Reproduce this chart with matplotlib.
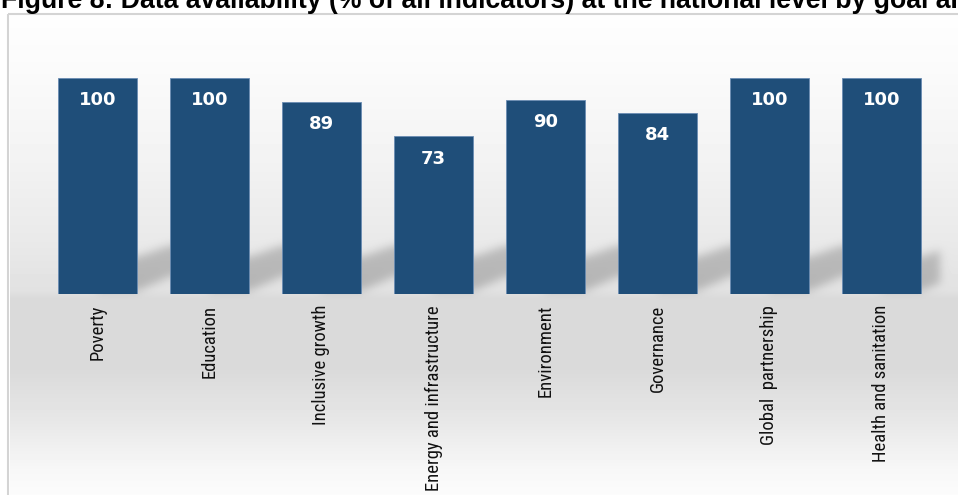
import matplotlib
matplotlib.use('Agg')
import matplotlib.pyplot as plt
from matplotlib.patches import Rectangle
import numpy as np

# Chart data
categories = ['Poverty', 'Education', 'Inclusive growth', 'Energy and infrastructure',
              'Environment', 'Governance', 'Global  partnership', 'Health and sanitation']
values = [100, 100, 89, 73, 90, 84, 100, 100]
title = 'Figure 8: Data availability (% of all indicators) at the national level by goal area'

W, H = 958, 495
BAR_COLOR = '#1f4e79'

# layout in pixels
ax_left, ax_step = 41.5, 112.0
bar_w = 0.705
base_y, px_per_unit = 294.0, 2.16
ymax = 120

fig = plt.figure(figsize=(W / 100, H / 100), dpi=100)

# background: grey gradient panel with the soft floor shadow behind the bars
bg_ax = fig.add_axes([0, 0, 1, 1])
bg_ax.set_xlim(0, W)
bg_ax.set_ylim(H, 0)
bg_ax.axis('off')

yy = np.arange(H) + 0.5
ctrl_y = [15, 60, 150, 240, 290, 298, 370, 420, 470, 495]
ctrl_v = [0.995, 0.985, 0.955, 0.915, 0.885, 0.855, 0.855, 0.905, 0.97, 0.985]
img = np.tile(np.interp(yy, ctrl_y, ctrl_v)[:, None], (1, W))

centers = ax_left + ax_step * (np.arange(len(values)) + 0.5)
half = bar_w * ax_step / 2
mask = np.zeros((H, W))
for i, c in enumerate(centers):
    right = c + half
    end = centers[i + 1] if i + 1 < len(centers) else 940
    gap = 34.0
    for col in range(int(c), int(end)):
        t = np.clip((col + 0.5 - right) / gap, 0, 1)
        top = 257 - 12 * t
        bot = 291 - 15 * t
        mask[(yy >= top) & (yy <= bot), col] = 1.0

sig = 4.5
k = np.exp(-0.5 * (np.arange(-14, 15) / sig) ** 2)
k /= k.sum()
mask = np.apply_along_axis(lambda r: np.convolve(r, k, 'same'), 0, mask)
mask = np.apply_along_axis(lambda r: np.convolve(r, k, 'same'), 1, mask)
img = img - 0.18 * mask
img[:15, :] = 1.0
img[:, :10] = 1.0
bg_ax.imshow(img, cmap='gray', vmin=0, vmax=1, extent=(0, W, H, 0),
             interpolation='bilinear', aspect='auto')
bg_ax.add_patch(Rectangle((8.5, 13.5), 1000, 1000, fill=False,
                          edgecolor='#d4d4d4', linewidth=1.5))

# bars
ax = fig.add_axes([ax_left / W, (H - base_y) / H, ax_step * len(values) / W,
                   ymax * px_per_unit / H])
ax.patch.set_alpha(0)
x = np.arange(len(values))
ax.bar(x, values, width=bar_w, color=BAR_COLOR, edgecolor='#6a8cb3', linewidth=0.6)
ax.set_xlim(-0.5, len(values) - 0.5)
ax.set_ylim(0, ymax)
for s in ax.spines.values():
    s.set_visible(False)
ax.set_yticks([])
ax.set_xticks(x)
ax.set_xticklabels(categories, rotation=90, va='top', ha='center',
                   family=['Roboto Condensed', 'Roboto', 'DejaVu Sans'], fontsize=13.4,
                   color='#111111')
ax.tick_params(axis='x', length=0, pad=8)

for i, v in enumerate(values):
    ax.annotate(str(v), (i, v), xytext=(0, -16), textcoords='offset points',
                ha='center', va='center', color='white', fontsize=13,
                fontweight='bold', family='DejaVu Sans')

fig.text(0.001, 1 - 8 / H, title, fontsize=19.2, fontweight='bold',
         family=['Liberation Sans', 'DejaVu Sans'], va='baseline', ha='left')

fig.savefig('out.png', dpi=100)
